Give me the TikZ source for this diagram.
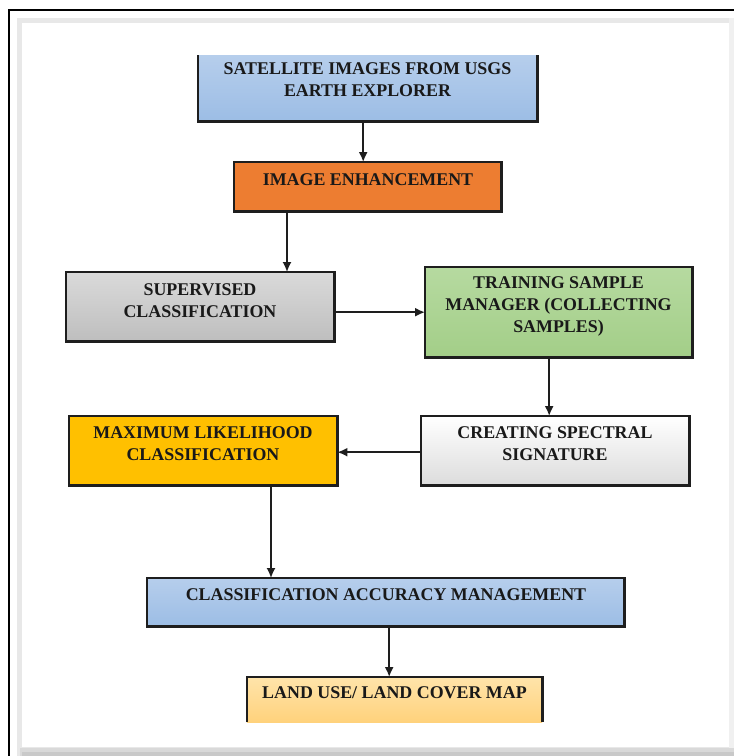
\documentclass[tikz,border=0pt]{standalone}
\usepackage{fontspec}
\setmainfont{Liberation Serif}
\usetikzlibrary{arrows.meta,calc}
\definecolor{bluetop}{HTML}{B6CEEC}
\definecolor{bluebot}{HTML}{9CBDE5}
\definecolor{orangef}{HTML}{ED7D31}
\definecolor{graytop}{HTML}{DADADA}
\definecolor{graybot}{HTML}{BEBEBE}
\definecolor{greentop}{HTML}{B6DAA0}
\definecolor{greenbot}{HTML}{A3CE88}
\definecolor{whitebot}{HTML}{DCDCDC}
\definecolor{goldf}{HTML}{FFC000}
\definecolor{peachtop}{HTML}{FFE4AA}
\definecolor{peachbot}{HTML}{FFD27C}
\definecolor{edge}{HTML}{1E1E1E}
\tikzset{
  boxbase/.style={draw=none, inner sep=0pt, anchor=north west},
  boxline/.style={draw=edge, line width=2.3pt},
  lbl/.style={font=\fontsize{17.9}{22}\selectfont\bfseries, align=center, inner sep=0pt, text=black!90},
  arr/.style={draw=edge, line width=1.7pt, -{Latex[length=10pt,width=9pt]}},
}
\begin{document}
\begin{tikzpicture}[x=1pt,y=-1pt]
\useasboundingbox (0,0) rectangle (734,756);
\fill[white] (0,0) rectangle (734,756);
% outer frame
\draw[black, line width=1.3pt] (9,756) -- (9,10) -- (734,10);
% inner panel with shadow
\fill[gray!18] (17,18) rectangle (734,756);
\fill[gray!30] (20,748) rectangle (734,756);
\fill[gray!42] (22,752) rectangle (734,756);
\fill[gray!12] (729,18) rectangle (734,748);
\fill[white] (22,23) rectangle (729,747);

% boxes
\node[boxbase, top color=bluetop, bottom color=bluebot, minimum width=339pt, minimum height=66pt] (b1) at (198,55) {};
\node[boxbase, fill=orangef, minimum width=267pt, minimum height=49pt] (b2) at (234,162) {};
\node[boxbase, top color=graytop, bottom color=graybot, minimum width=268pt, minimum height=69pt] (b3) at (66,272) {};
\node[boxbase, top color=greentop, bottom color=greenbot, minimum width=267pt, minimum height=90pt] (b4) at (425,267) {};
\node[boxbase, top color=white, bottom color=whitebot, minimum width=268pt, minimum height=69pt] (b5) at (421,416) {};
\node[boxbase, fill=goldf, minimum width=268pt, minimum height=69pt] (b6) at (69,416) {};
\node[boxbase, top color=bluetop, bottom color=bluebot, minimum width=477pt, minimum height=48pt] (b7) at (147,578) {};
\node[boxbase, top color=peachtop, bottom color=peachbot, minimum width=295pt, minimum height=45pt] (b8) at (247,677) {};

% borders
\draw[boxline] (b1.north west) -- (b1.south west) -- (b1.south east) -- (b1.north east);
\draw[boxline] (b2.north west) rectangle (b2.south east);
\draw[boxline] (b3.north west) rectangle (b3.south east);
\draw[boxline] (b4.north west) rectangle (b4.south east);
\draw[boxline] (b5.north west) rectangle (b5.south east);
\draw[boxline] (b6.north west) rectangle (b6.south east);
\draw[boxline] (b7.north west) rectangle (b7.south east);
\draw[boxline] (b8.south west) -- (b8.north west) -- (b8.north east) -- (b8.south east);

% labels
\node[lbl] (t1) at (367.5,80) {SATELLITE IMAGES FROM USGS\\EARTH EXPLORER};
\node[lbl] (t2) at (368,180) {IMAGE ENHANCEMENT};
\node[lbl] (t3) at (200,301) {SUPERVISED\\CLASSIFICATION};
\node[lbl] (t4) at (558.5,306) {TRAINING SAMPLE\\MANAGER (COLLECTING\\SAMPLES)};
\node[lbl] (t5) at (555,444) {CREATING SPECTRAL\\SIGNATURE};
\node[lbl] (t6) at (203,444) {MAXIMUM LIKELIHOOD\\CLASSIFICATION};
\node[lbl] (t7) at (386,595) {CLASSIFICATION ACCURACY MANAGEMENT};
\node[lbl] (t8) at (394.5,693) {LAND USE/ LAND COVER MAP};

% connectors
\draw[arr] ([xshift=-4.5pt]b1.south) -- ([xshift=-4.5pt]b1.south |- b2.north);
\draw[arr] ([xshift=53pt]b2.south west) -- ([xshift=53pt]b2.south west |- b3.north);
\draw[arr] (b4.west -| b3.east) -- (b4.west);
\draw[arr] ([xshift=-9.5pt]b4.south) -- ([xshift=-9.5pt]b4.south |- b5.north);
\draw[arr] ([yshift=-1.5pt]b5.west) -- ([yshift=-1.5pt]b5.west -| b6.east);
\draw[arr] ([xshift=202pt]b6.south west) -- ([xshift=202pt]b6.south west |- b7.north);
\draw[arr] ([xshift=3.5pt]b7.south) -- ([xshift=3.5pt]b7.south |- b8.north);
\end{tikzpicture}
\end{document}
